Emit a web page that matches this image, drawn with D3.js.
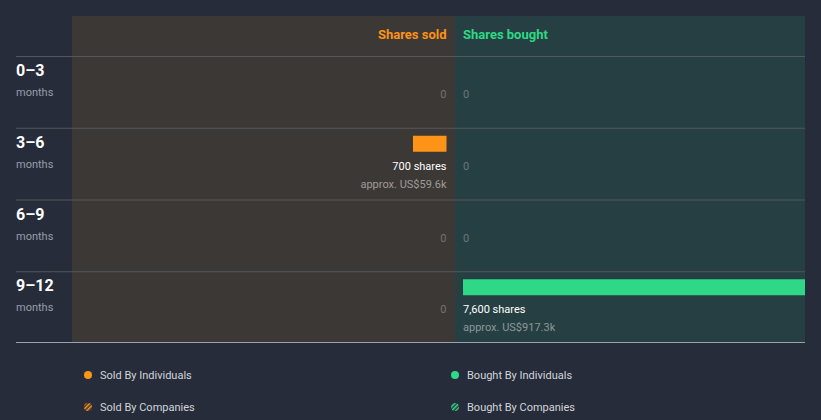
<!DOCTYPE html>
<html><head><meta charset="utf-8">
<script src="https://cdn.jsdelivr.net/npm/d3@7"></script>
<style>
html,body{margin:0;padding:0;background:#262c3a;}
svg{display:block;font-family:Roboto,"Open Sans",sans-serif;}
</style></head>
<body>
<svg id="c" width="821" height="420"></svg>
<script>
const periods = ["0–3","3–6","6–9","9–12"];
const periodUnits = ["months","months","months","months"];
const soldShares = [0, 700, 0, 0];
const soldValue = ["", "approx. US$59.6k", "", ""];
const boughtShares = [0, 0, 0, 7600];
const boughtValue = ["", "", "", "approx. US$917.3k"];
const legendLabels = [["Sold By Individuals","Bought By Individuals"],["Sold By Companies","Bought By Companies"]];

(function(){
const ORANGE = "#fd9317", GREEN = "#2ed887";
const svg = d3.select("#c");
const defs = svg.append("defs");
[["hatchO",ORANGE],["hatchG",GREEN]].forEach(([id,col])=>{
  const p = defs.append("pattern").attr("id",id).attr("patternUnits","userSpaceOnUse")
    .attr("width",3).attr("height",3).attr("patternTransform","rotate(45)");
  p.append("rect").attr("width",3).attr("height",3).attr("fill","#262c3a");
  p.append("rect").attr("width",1.6).attr("height",3).attr("fill",col);
});
defs.append("clipPath").attr("id","panelClip").append("rect")
  .attr("x",72).attr("y",16).attr("width",733).attr("height",327);

const panelL = 72, mid = 455, panelR = 805, panelT = 16, headerB = 56, bottom = 343;
const soldR = 446.5, boughtL = 463;
const y = d3.scaleBand().domain(periods).range([headerB, bottom]);
const x = d3.scaleLinear().domain([0, 7600]).range([0, 364]);
const fmt = d3.format(",");

svg.append("rect").attr("x",panelL).attr("y",panelT).attr("width",mid-panelL).attr("height",bottom-panelT).attr("fill","#3c3835");
svg.append("rect").attr("x",mid).attr("y",panelT).attr("width",panelR-mid).attr("height",bottom-panelT).attr("fill","#263f42");

svg.append("text").attr("x",soldR).attr("y",39).attr("text-anchor","end").attr("fill",ORANGE)
  .attr("font-size",13).attr("font-weight",700).text("Shares sold");
svg.append("text").attr("x",boughtL).attr("y",39).attr("fill",GREEN)
  .attr("font-size",13).attr("font-weight",700).text("Shares bought");

periods.forEach(p=>{
  svg.append("line").attr("x1",16).attr("x2",panelR).attr("y1",y(p)+0.5).attr("y2",y(p)+0.5)
    .attr("stroke","#55585b").attr("stroke-width",1);
});
svg.append("line").attr("x1",16).attr("x2",panelR).attr("y1",bottom-0.5).attr("y2",bottom-0.5)
  .attr("stroke","#9aa3ad").attr("stroke-width",1);

const bars = svg.append("g").attr("clip-path","url(#panelClip)");

periods.forEach((p,i)=>{
  const r = y(p);
  svg.append("text").attr("x",16).attr("y",r+20).attr("fill","#ffffff").attr("font-size",16)
    .attr("font-weight",700).text(p);
  svg.append("text").attr("x",16).attr("y",r+40).attr("fill","#9a9ea6").attr("font-size",11)
    .text(periodUnits[i]);

  if (soldShares[i] > 0) {
    const w = x(soldShares[i]);
    bars.append("rect").attr("x",soldR-w).attr("y",r+8).attr("width",w).attr("height",16).attr("fill",ORANGE);
    svg.append("text").attr("x",soldR).attr("y",r+42).attr("text-anchor","end").attr("fill","#ffffff")
      .attr("font-size",11).attr("font-weight",400).text(fmt(soldShares[i])+" shares");
    svg.append("text").attr("x",soldR).attr("y",r+60).attr("text-anchor","end").attr("fill","#a09c98")
      .attr("font-size",11).text(soldValue[i]);
  } else {
    svg.append("text").attr("x",soldR).attr("y",r+42).attr("text-anchor","end").attr("fill","#77736f")
      .attr("font-size",11).text("0");
  }
  if (boughtShares[i] > 0) {
    const w = x(boughtShares[i]);
    bars.append("rect").attr("x",boughtL).attr("y",r+8).attr("width",w).attr("height",16).attr("fill",GREEN);
    svg.append("text").attr("x",boughtL).attr("y",r+42).attr("fill","#ffffff")
      .attr("font-size",11).attr("font-weight",400).text(fmt(boughtShares[i])+" shares");
    svg.append("text").attr("x",boughtL).attr("y",r+60).attr("fill","#8a999b")
      .attr("font-size",11).text(boughtValue[i]);
  } else {
    svg.append("text").attr("x",boughtL).attr("y",r+42).attr("fill","#687a7c")
      .attr("font-size",11).text("0");
  }
});

const legX = [88, 455], legY = [375, 407];
const fills = [[ORANGE, GREEN],["url(#hatchO)","url(#hatchG)"]];
legendLabels.forEach((row,ri)=>{
  row.forEach((lab,ci)=>{
    svg.append("circle").attr("cx",legX[ci]).attr("cy",legY[ri]).attr("r",4).attr("fill",fills[ri][ci]);
    svg.append("text").attr("x",legX[ci]+12).attr("y",legY[ri]+4).attr("fill","#d2d5da")
      .attr("font-size",11).text(lab);
  });
});
})();
</script>
</body></html>
